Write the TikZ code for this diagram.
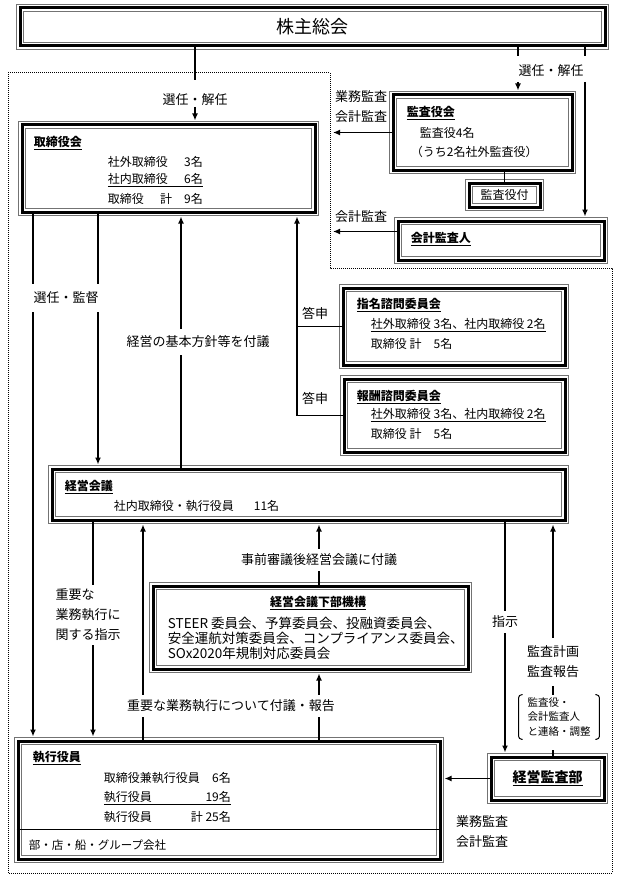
\documentclass[tikz,border=0pt]{standalone}
\usepackage{fontspec}
\setmainfont{Noto Sans CJK JP}
\usetikzlibrary{arrows.meta, positioning, fit}

\newcommand{\bodyfs}{\fontsize{12}{14}\selectfont}
\newcommand{\lblfs}{\fontsize{13}{20}\selectfont}
\newcommand{\kabufs}{\fontsize{13.5}{15}\selectfont}
\newcommand{\smallfs}{\fontsize{10.5}{14.5}\selectfont}

\begin{document}
\begin{tikzpicture}[x=1pt, y=-1pt, >={Latex[length=7pt,width=6pt]}, line width=1.8pt,
    frame/.style={draw=black, line width=3pt, inner sep=0pt,
                  preaction={draw=black!55, line width=7.6pt},
                  preaction={draw=white, line width=6.2pt}},
    arr/.style={->, shorten >=3pt},
    zone/.style={line width=1pt, dash pattern=on 1pt off 1pt},
    lbl/.style={font=\lblfs, fill=white, inner xsep=3pt, inner ysep=5pt},
    note/.style={font=\lblfs, inner sep=0pt}]

  \tikzstyle{txt} = [anchor=west, inner sep=0pt, font=\bodyfs]
  \tikzstyle{ttl} = [anchor=west, inner sep=0pt, font=\bodyfs\bfseries]
  \useasboundingbox (0,0) rectangle (619,880);

  % region without the audit side
  \draw[zone] (8,73) -- (330,73) -- (330,268) -- (612,268) -- (612,873) -- (8,873) -- cycle;

  % boxes
  \node[frame, fit={(20,8) (605,46)}]     (soukai)      {};
  \node[frame, fit={(22,125) (315,212)}]  (torishimari) {};
  \node[frame, fit={(393,95) (572,170)}]  (kansayaku)   {};
  \node[frame, fit={(469,183) (540,207)}] (kansatsuki)  {};
  \node[frame, fit={(398,221) (604,260)}] (kaikei)      {};
  \node[frame, fit={(343,288) (565,365)}] (shimei)      {};
  \node[frame, fit={(344,379) (565,452)}] (houshu)      {};
  \node[frame, fit={(52,469) (565,520)}]  (keiei)       {};
  \node[frame, fit={(153,586) (468,669)}] (kabu)        {};
  \node[frame, fit={(18,741) (440,859)}]  (shikkou)     {};
  \node[frame, fit={(491,757) (604,800)}] (kansabu)     {};

  % box texts
  \node[font=\fontsize{18}{20}\selectfont, inner sep=0pt] (soukaiT) at (soukai.center) {株主総会};
  \node[ttl] (torishimariT) at (33,143) {\underline{取締役会}};
  \node[txt] (tr1) at (107,162) {\makebox[62pt][l]{社外取締役}\makebox[33pt][r]{3名}};
  \node[txt] (tr2) at (107,180) {\underline{\makebox[62pt][l]{社内取締役}\makebox[33pt][r]{6名}}};
  \node[txt] (tr3) at (107,199) {\makebox[62pt][l]{取締役}\makebox[33pt][r]{計　9名}};

  \node[ttl] (kansayakuT) at (406,113) {\underline{監査役会}};
  \node[txt] (ky1) at (419,133) {監査役4名};
  \node[txt] (ky2) at (410,152) {（うち2名社外監査役）};
  \node[font=\bodyfs, inner sep=0pt] (kansatsukiT) at (kansatsuki.center) {監査役付};
  \node[ttl] (kaikeiT) at (410,239) {\underline{会計監査人}};

  \node[ttl] (shimeiT) at (356,305) {\underline{指名諮問委員会}};
  \node[txt] (sm1) at (370,325) {\underline{社外取締役 3名、社内取締役 2名}};
  \node[txt] (sm2) at (370,344) {取締役 計　5名};
  \node[ttl] (houshuT) at (356,397) {\underline{報酬諮問委員会}};
  \node[txt] (hs1) at (370,415) {\underline{社外取締役 3名、社内取締役 2名}};
  \node[txt] (hs2) at (370,434) {取締役 計　5名};

  \node[ttl] (keieiT) at (64,487) {\underline{経営会議}};
  \node[txt] (ke1) at (113,506) {社内取締役・執行役員\hspace{20pt}11名};

  \node[font=\bodyfs\bfseries, inner sep=0pt] (kabuT) at (318,603) {\underline{経営会議下部機構}};
  \node[anchor=west, inner sep=0pt, font=\kabufs, align=left] (kabuL) at (167,638)
       {STEER 委員会、予算委員会、投融資委員会、\\安全運航対策委員会、コンプライアンス委員会、\\SOx2020年規制対応委員会};

  \node[ttl] (shikkouT) at (32,758) {\underline{執行役員}};
  \node[txt] (sk1) at (103,778) {\makebox[96pt][l]{取締役兼執行役員}\makebox[31pt][r]{6名}};
  \node[txt] (sk2) at (103,798) {\underline{\makebox[96pt][l]{執行役員}\makebox[31pt][r]{19名}}};
  \node[txt] (sk3) at (103,817) {\makebox[96pt][l]{執行役員}\makebox[31pt][r]{計 25名}};
  \draw[line width=1pt] ([yshift=31pt]shikkou.south west) -- ([yshift=31pt]shikkou.south east);
  \node[anchor=west, inner sep=0pt, font=\fontsize{11.5}{14}\selectfont] (bumon) at (28,845) {部・店・船・グループ会社};

  \node[font=\fontsize{14}{16}\selectfont\bfseries, inner sep=0pt] (kansabuT) at (kansabu.center) {\underline{経営監査部}};

  % x positions of the connectors
  \coordinate (xA) at (33,0);   \coordinate (xB) at (98,0);
  \coordinate (xC) at (181,0);  \coordinate (xD) at (297,0);
  \coordinate (xE) at (93,0);   \coordinate (xF) at (143,0);
  \coordinate (xG) at (319,0);  \coordinate (xH) at (505,0);
  \coordinate (xK) at (553,0);  \coordinate (xW) at (330,0);

  % shareholders
  \coordinate (senA) at (195,80);
  \draw (soukai.south -| senA) -- (senA);
  \node[note] (senninL) at (195,100) {選任・解任};
  \draw[arr] (senninL.south) -- (torishimari.north -| senninL);
  \coordinate (stubR1) at (518,56);  \coordinate (stubR2) at (585,56);
  \coordinate (tR1) at (518,82);     \coordinate (tR2) at (585,82);
  \draw (soukai.south -| stubR1) -- (stubR1);
  \draw (soukai.south -| stubR2) -- (stubR2);
  \node[note] (senninR) at (551,71) {選任・解任};
  \draw[arr] (tR1) -- (kansayaku.north -| tR1);
  \draw[arr] (tR2) -- (kaikei.north -| tR2);

  % audit side
  \draw[arr] (kansayaku.west) -- (kansayaku.west -| xW);
  \coordinate (kw) at ([yshift=9pt]kaikei.west);
  \draw[arr] (kw) -- (kw -| xW);
  \draw (kansayaku.south -| kansatsuki) -- (kansatsuki.north);
  \node[note, align=left] (kansaL) at (361,107) {業務監査\\会計監査};
  \node[note] (kaikeiL) at (361,217) {会計監査};

  % board
  \draw[arr] (torishimari.south -| xA) -- (shikkou.north -| xA);
  \draw[arr] (torishimari.south -| xB) -- (keiei.north -| xB);
  \node[lbl, inner ysep=8pt] (senninK) at (66,298) {選任・監督};
  \draw[arr] (keiei.north -| xC) -- (torishimari.south -| xC);
  \node[lbl, inner ysep=7pt] (fugiL) at (198,342) {経営の基本方針等を付議};
  \draw (shimei.west) -- (shimei.west -| xD);
  \draw[arr] (houshu.west) -- (houshu.west -| xD) -- (torishimari.south -| xD);
  \node[note] (toushin1) at (315,313) {答申};
  \node[note] (toushin2) at (315,398) {答申};

  % management meeting
  \draw[arr] (keiei.south -| xE) -- (shikkou.north -| xE);
  \node[lbl, align=left, inner ysep=4pt] (shijiL) at (88,615) {重要な\\業務執行に\\関する指示};
  \draw[arr] (shikkou.north -| xF) -- (keiei.south -| xF);
  \draw[arr] (kabu.north -| xG) -- (keiei.south -| xG);
  \node[lbl] (shinsaL) at (319,560) {事前審議後経営会議に付議};
  \draw[arr] (shikkou.north -| xG) -- (kabu.south -| xG);
  \node[lbl] (houkokuL) at (231,706) {重要な業務執行について付議・報告};
  \draw[arr] (keiei.south -| xH) -- (kansabu.north -| xH);
  \node[lbl] (shijiR) at (505,622) {指示};

  % internal audit
  \node[font=\smallfs, align=left, inner xsep=8pt, inner ysep=2pt] (brk) at (559,717)
       {監査役・\\会計監査人\\と連絡・調整};
  \draw[line width=1pt, rounded corners=3pt] ([xshift=4pt]brk.north west) -- (brk.north west)
       -- (brk.south west) -- ([xshift=4pt]brk.south west);
  \draw[line width=1pt, rounded corners=3pt] ([xshift=-4pt]brk.north east) -- (brk.north east)
       -- (brk.south east) -- ([xshift=-4pt]brk.south east);
  \draw[arr] (brk.north -| xK) -- (keiei.south -| xK);
  \node[lbl, align=center, inner ysep=8pt] (kansaPlan) at (553,662) {監査計画\\監査報告};
  \draw[shorten >=11pt] (kansabu.north -| xK) -- (brk.south -| xK);
  \draw[arr] (kansabu.west) -- (kansabu.west -| shikkou.east);
  \node[note, align=left] (kansaL2) at (482,832) {業務監査\\会計監査};
\end{tikzpicture}
\end{document}
